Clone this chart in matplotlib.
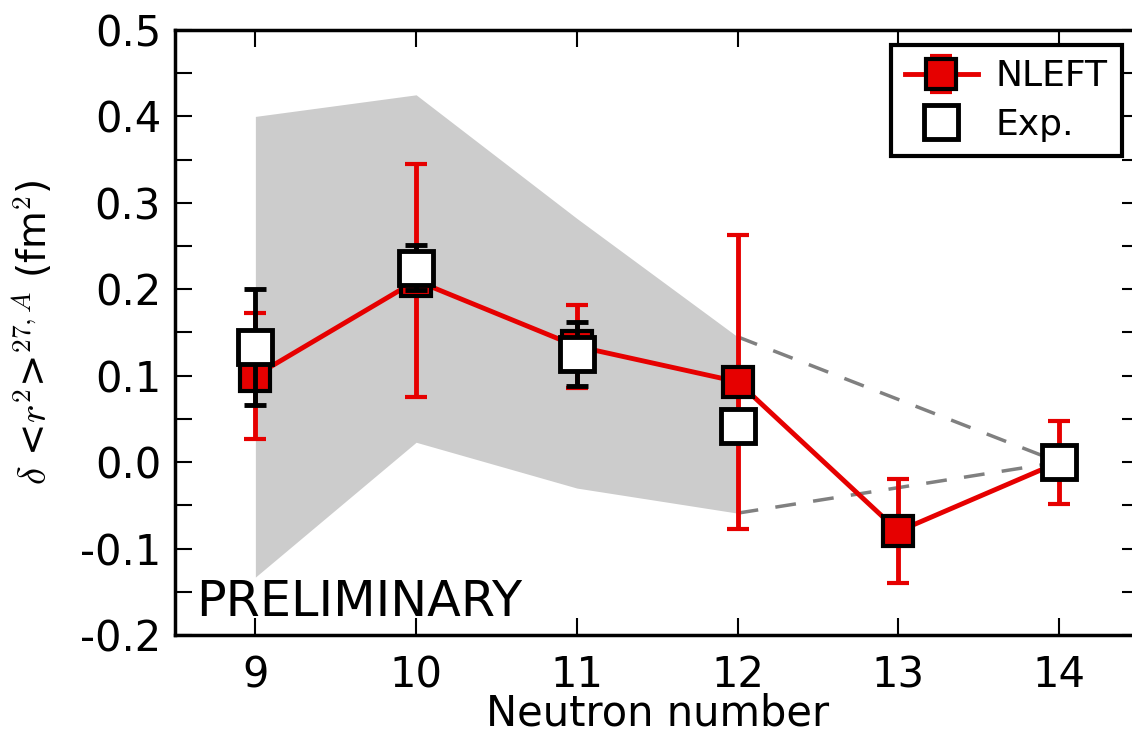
import matplotlib
matplotlib.use("Agg")
import matplotlib.pyplot as plt
from matplotlib.ticker import MultipleLocator, FormatStrFormatter

plt.rcParams['font.family'] = ['DejaVu Sans']
plt.rcParams['mathtext.fontset'] = 'cm'
plt.rcParams['axes.unicode_minus'] = False

# Datos
neutrones = [9, 10, 11, 12, 13, 14]
nleft = [0.100, 0.210, 0.134, 0.093, -0.080, 0.000]
nleft_err = [0.073, 0.135, 0.048, 0.170, 0.060, 0.048]

exp_n = [9, 10, 11, 12, 14]
exp_val = [0.133, 0.225, 0.125, 0.042, 0.000]
exp_err = [0.067, 0.026, 0.037, 0.0, 0.0]

banda_n = [9, 10, 11, 12]
banda_lo = [-0.133, 0.023, -0.030, -0.059]
banda_hi = [0.400, 0.425, 0.282, 0.145]

# Extrapolacion (lineas discontinuas)
extra_n = [12, 14]
extra_hi = [0.145, 0.0]
extra_lo = [-0.059, 0.0]

rojo = '#e60000'

fig = plt.figure(figsize=(11.32, 7.44), dpi=100)
ax = fig.add_axes([0.1546, 0.1465, 0.852, 0.8132])

ax.fill_between(banda_n, banda_lo, banda_hi, color='#cccccc', lw=0, zorder=1)
ax.plot(extra_n, extra_hi, color='gray', lw=2.5, ls=(0, (6, 5)), zorder=2)
ax.plot(extra_n, extra_lo, color='gray', lw=2.5, ls=(0, (6, 5)), zorder=2)

h_nleft = ax.errorbar(neutrones, nleft, yerr=nleft_err, color=rojo, lw=3.5,
                      elinewidth=3.5, capsize=8, capthick=3.5, marker='s', ms=21,
                      mfc=rojo, mec='black', mew=3, label='NLEFT', zorder=3)
ax.errorbar(exp_n, exp_val, yerr=exp_err, color='black', ls='none', elinewidth=3.5,
            capsize=8, capthick=3.5, zorder=4)
h_exp, = ax.plot(exp_n, exp_val, ls='none', marker='s', ms=25, mfc='white',
                 mec='black', mew=3.5, label='Exp.', zorder=5)

ax.text(8.63, -0.178, 'PRELIMINARY', fontsize=35.5, ha='left', va='baseline')

ax.set_xlim(8.5, 14.5)
ax.set_ylim(-0.2, 0.5)
ax.set_xticks(neutrones)
ax.yaxis.set_major_locator(MultipleLocator(0.1))
ax.yaxis.set_minor_locator(MultipleLocator(0.05))
ax.yaxis.set_major_formatter(FormatStrFormatter('%.1f'))
ax.tick_params(which='both', direction='in', top=True, right=True, width=1.5)
ax.tick_params(which='major', length=12, labelsize=30)
ax.tick_params(which='minor', length=12)
ax.tick_params(axis='x', pad=14)
ax.tick_params(axis='y', pad=10)
for s in ax.spines.values():
    s.set_linewidth(2.5)

ax.set_xlabel('Neutron number', fontsize=30, labelpad=-3)
ax.set_ylabel(r'$\delta$ <$r^2$>$^{27,A}$ (fm$^2$)', fontsize=28, labelpad=18)

leg = ax.legend([h_nleft, h_exp], ['NLEFT', 'Exp.'], loc='upper right',
                bbox_to_anchor=(0.9912, 0.9395), bbox_transform=fig.transFigure,
                borderaxespad=0, numpoints=1, fontsize=26, fancybox=False,
                framealpha=1, edgecolor='black', handlelength=2.0,
                handletextpad=0.5, borderpad=0.4, labelspacing=0.4)
leg.get_frame().set_linewidth(3)

fig.savefig('out.png', dpi=100)
